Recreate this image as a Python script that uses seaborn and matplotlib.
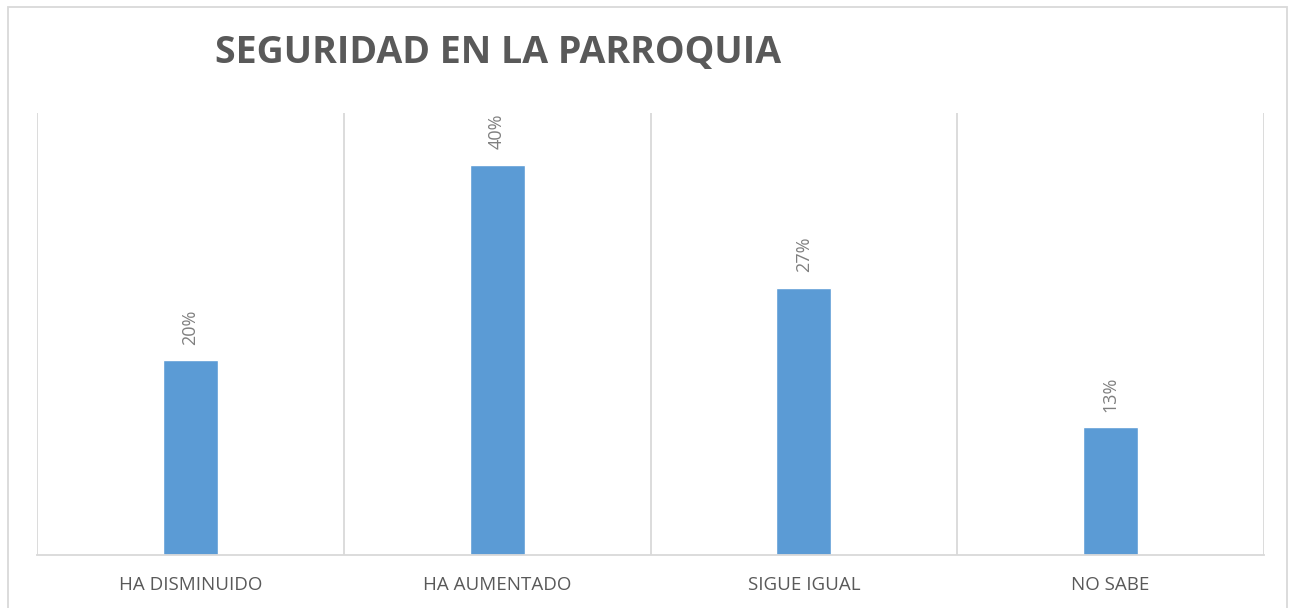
import matplotlib
matplotlib.use("Agg")
import matplotlib.pyplot as plt
import seaborn as sns
import pandas as pd

categories = ["HA DISMINUIDO", "HA AUMENTADO", "SIGUE IGUAL", "NO SABE"]
values = [0.20, 0.40, 0.274, 0.131]
labels = ["20%", "40%", "27%", "13%"]
title = "SEGURIDAD EN LA PARROQUIA"

sns.set_theme(style="white")
plt.rcParams["font.family"] = ["Open Sans", "DejaVu Sans"]

BAR = "#5B9BD5"
GRID = "#D9D9D9"
TXT = "#595959"

fig = plt.figure(figsize=(12.89, 6.08), dpi=100)
ax = fig.add_axes([37/1289, 1-555/608, (1264-37)/1289, (555-113)/608])

df = pd.DataFrame({"cat": categories, "val": values})
sns.barplot(data=df, x="cat", y="val", color=BAR, width=0.18, ax=ax, saturation=1)

ax.set_xlim(-0.5, len(categories) - 0.5)
ax.set_ylim(0, 0.453)
ax.set_yticks([])
ax.set_xlabel("")
ax.set_ylabel("")
ax.set_xticks([i - 0.5 for i in range(len(categories) + 1)], minor=True)
ax.grid(False)
ax.grid(True, which="minor", axis="x", color=GRID, linewidth=1.3)
ax.tick_params(axis="x", which="both", length=0, pad=15, labelsize=13.5, labelcolor=TXT)
for s in ["top", "right", "left"]:
    ax.spines[s].set_visible(False)
ax.spines["bottom"].set_color(GRID)
ax.spines["bottom"].set_linewidth(1.3)

for p, lab in zip(ax.patches, labels):
    x = p.get_x() + p.get_width() / 2
    ax.annotate(lab, (x, p.get_height()), xytext=(0, 11), textcoords="offset points",
                rotation=90, ha="center", va="bottom", fontsize=13, color="#7F7F7F")

fig.text(215/1289, 1-53/608, title, ha="left", va="center", fontsize=27,
         fontweight="bold", color=TXT)

border = plt.Rectangle((8/1289, -0.05), (1287-8)/1289, 1.05-7/608, transform=fig.transFigure,
                       fill=False, edgecolor=GRID, linewidth=1.3, clip_on=False)
fig.patches.append(border)

fig.savefig("out.png", dpi=100, facecolor="white")
